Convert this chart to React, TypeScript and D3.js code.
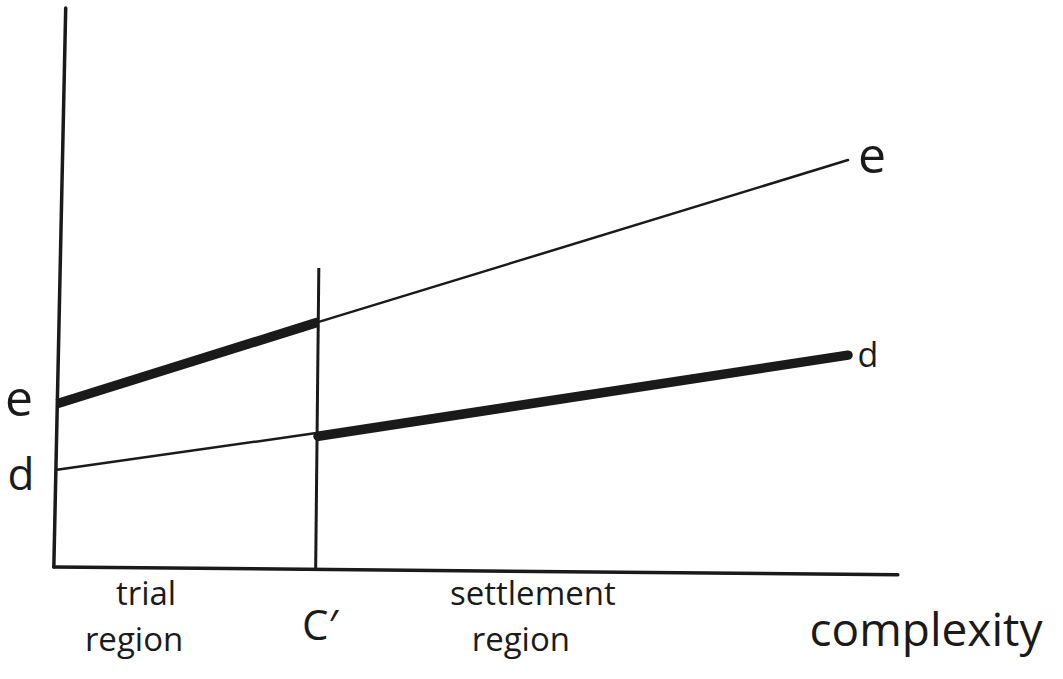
import React, { useRef, useEffect } from "react"
import * as d3 from "d3"

// complexity runs 0..100 across the plot, value 0..100 up the y axis
const cPrime = 33

// [complexity, value] points
const eTrial = [[0, 29.2], [cPrime, 43.8]]
const eSettle = [[cPrime, 43.8], [100, 72.8]]
const dTrial = [[0, 17.4], [cPrime, 24.0]]
const dSettle = [[cPrime, 23.4], [100, 37.9]]

// hand drawn axes lean a bit
const yAxisLine = [[1.1, 100], [-0.4, 0]]
const xAxisLine = [[-0.4, 0], [106.3, -1.4]]
const cPrimeLine = [[cPrime + 0.1, 53.5], [cPrime - 0.3, -0.5]]

const regionLabels = [
  { lines: ["trial", "region"], at: 10.5 },
  { lines: ["settlement", "region"], at: 59.4 },
]

export default function App() {
  const svgRef = useRef<SVGSVGElement>(null)
  const width = 1063
  const height = 679

  useEffect(() => {
    if (!svgRef.current) return
    const svg = d3.select(svgRef.current)
    svg.selectAll("*").remove()

    const x = d3.scaleLinear().domain([0, 100]).range([57, 848])
    const y = d3.scaleLinear().domain([0, 100]).range([567, 8])
    const line = d3
      .line<number[]>()
      .x((d) => x(d[0]))
      .y((d) => y(d[1]))

    const font = "'Open Sans', 'DejaVu Sans', sans-serif"

    const draw = (pts: number[][], w: number, cap = "butt") =>
      svg
        .append("path")
        .attr("d", line(pts))
        .attr("fill", "none")
        .attr("stroke", "#1a1a1a")
        .attr("stroke-width", w)
        .attr("stroke-linecap", cap)

    draw(yAxisLine, 3.5, "round")
    draw(xAxisLine, 3.5, "round")
    draw(cPrimeLine, 3)

    draw(eTrial, 9.5)
    draw(eSettle, 2.5, "round")
    draw(dTrial, 2.5)
    draw(dSettle, 9.5, "round")

    const txt = (s: string, tx: number, ty: number, size: number, anchor = "middle") =>
      svg
        .append("text")
        .attr("x", tx)
        .attr("y", ty)
        .attr("text-anchor", anchor)
        .attr("font-family", font)
        .attr("font-size", size)
        .attr("fill", "#1a1a1a")
        .text(s)

    // curve labels at the axis and at the right ends
    txt("e", 19, y(eTrial[0][1]) + 12, 50)
    txt("d", 21, y(dTrial[0][1]) + 20, 44)
    txt("e", x(eSettle[1][0]) + 24, y(eSettle[1][1]) + 13, 50)
    txt("d", x(dSettle[1][0]) + 20, y(dSettle[1][1]) + 12, 34)

    regionLabels.forEach((r) => {
      const cx = x(r.at)
      txt(r.lines[0], cx + 6, 605, 33)
      txt(r.lines[1], cx - 6, 651, 33)
    })
    txt("C\u2032", x(cPrime) + 2, 640, 42)
    txt("complexity", 926, 646, 46)
  }, [])

  return (
    <svg
      ref={svgRef}
      width={width}
      height={height}
      style={{ position: "absolute", left: 0, top: 0, background: "#fff" }}
    ></svg>
  )
}
